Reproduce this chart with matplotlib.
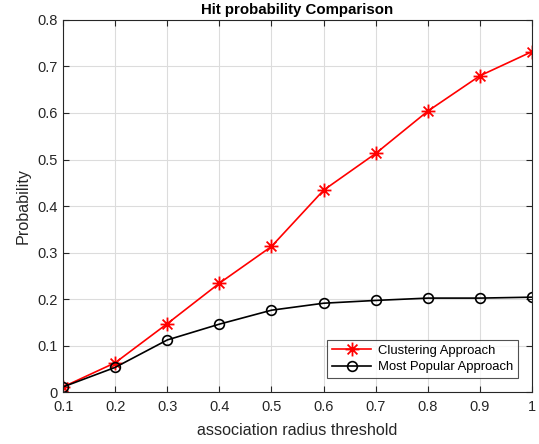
import matplotlib
matplotlib.use("Agg")
import matplotlib.pyplot as plt
from matplotlib.path import Path
import numpy as np

x = [0.1, 0.2, 0.3, 0.4, 0.5, 0.6, 0.7, 0.8, 0.9, 1.0]
clustering = [0.011, 0.063, 0.147, 0.234, 0.313, 0.434, 0.513, 0.604, 0.680, 0.732]
popular = [0.011, 0.053, 0.112, 0.146, 0.176, 0.191, 0.197, 0.202, 0.202, 0.204]
xticks = [0.1, 0.2, 0.3, 0.4, 0.5, 0.6, 0.7, 0.8, 0.9, 1]
xticklabels = ["0.1", "0.2", "0.3", "0.4", "0.5", "0.6", "0.7", "0.8", "0.9", "1"]
yticks = [0, 0.1, 0.2, 0.3, 0.4, 0.5, 0.6, 0.7, 0.8]
yticklabels = ["0", "0.1", "0.2", "0.3", "0.4", "0.5", "0.6", "0.7", "0.8"]

plt.rcParams['font.family'] = ['Liberation Sans', 'DejaVu Sans']

# MATLAB-style asterisk marker (+ and x overlaid)
d = np.sqrt(0.5)
verts = [(-1, 0), (1, 0), (0, -1), (0, 1), (-d, -d), (d, d), (-d, d), (d, -d)]
codes = [Path.MOVETO, Path.LINETO] * 4
asterisk = Path(verts, codes)

fig = plt.figure(figsize=(5.39, 4.44), dpi=100)
ax = fig.add_axes([0.117, 0.117, 0.870, 0.838])

ax.plot(x, clustering, color='#ff0000', marker=asterisk, markersize=10, linewidth=1.2,
        markeredgewidth=1.3, label='Clustering Approach')
ax.plot(x, popular, color='black', marker='o', markersize=7, markerfacecolor='none',
        linewidth=1.2, markeredgewidth=1.2, label='Most Popular Approach')

ax.set_xlim(0.1, 1.0)
ax.set_ylim(0, 0.8)
ax.set_xticks(xticks)
ax.set_xticklabels(xticklabels)
ax.set_yticks(yticks)
ax.set_yticklabels(yticklabels)
ax.tick_params(direction='in', length=4, labelsize=10.5, colors='#262626', top=True, right=True,
               labeltop=False, labelright=False)
ax.tick_params(axis='x', pad=6)
ax.tick_params(axis='y', pad=4)
ax.grid(True, color='#dcdcdc', linewidth=0.8)
ax.set_axisbelow(True)
for s in ax.spines.values():
    s.set_color('#262626')
    s.set_linewidth(0.8)

ax.set_title('Hit probability Comparison', fontsize=10.8, fontweight='bold', pad=4)
ax.set_xlabel('association radius threshold', fontsize=11.6, color='#262626', labelpad=6)
ax.set_ylabel('Probability', fontsize=11.6, color='#262626', labelpad=5)

leg = ax.legend(loc='lower right', fontsize=9.4, frameon=True, fancybox=False,
                edgecolor='#262626', borderaxespad=1.05, handlelength=3.0,
                borderpad=0.4, labelspacing=0.3, handletextpad=0.5)
leg.get_frame().set_linewidth(0.8)

fig.savefig('out.png', dpi=100)
